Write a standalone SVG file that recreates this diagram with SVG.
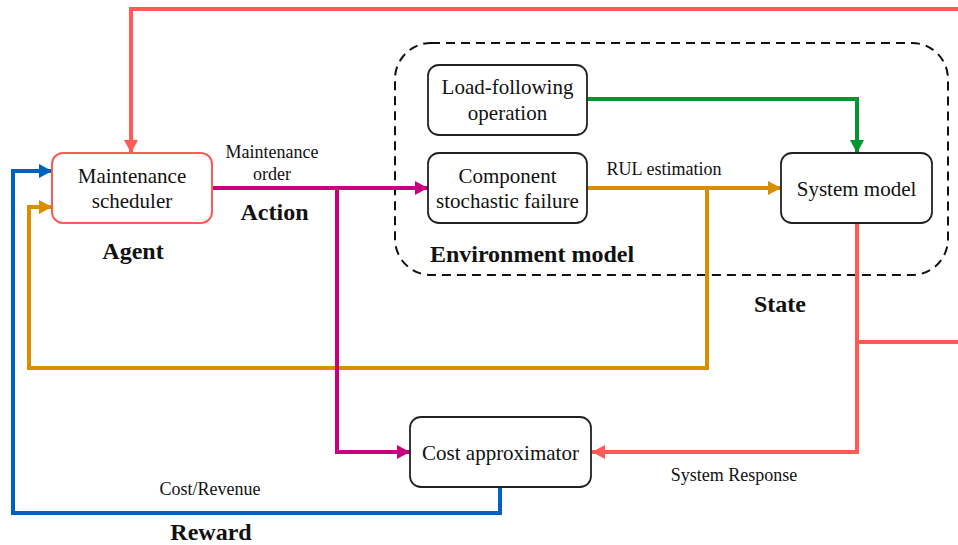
<svg xmlns="http://www.w3.org/2000/svg" width="958" height="545" viewBox="0 0 958 545">
<style>
.box{fill:#fff;stroke:#222;stroke-width:1.8}
.t{font-family:"Liberation Serif","Times New Roman",serif;fill:#111;text-anchor:middle}
.n{font-size:21px}
.s{font-size:18px}
.b{font-size:24px;font-weight:bold}
.c{fill:none;stroke-width:4;stroke-linejoin:miter}
</style>
<defs>
<marker id="aR" markerUnits="userSpaceOnUse" markerWidth="14" markerHeight="14" refX="13" refY="7" orient="auto"><path d="M0,0 L13,7 L0,14 Z" fill="#FF5A55"/></marker>
<marker id="aB" markerUnits="userSpaceOnUse" markerWidth="14" markerHeight="14" refX="13" refY="7" orient="auto"><path d="M0,0 L13,7 L0,14 Z" fill="#0060C0"/></marker>
<marker id="aO" markerUnits="userSpaceOnUse" markerWidth="14" markerHeight="14" refX="13" refY="7" orient="auto"><path d="M0,0 L13,7 L0,14 Z" fill="#D98E00"/></marker>
<marker id="aM" markerUnits="userSpaceOnUse" markerWidth="14" markerHeight="14" refX="13" refY="7" orient="auto"><path d="M0,0 L13,7 L0,14 Z" fill="#C8007E"/></marker>
<marker id="aG" markerUnits="userSpaceOnUse" markerWidth="14" markerHeight="14" refX="13" refY="7" orient="auto"><path d="M0,0 L13,7 L0,14 Z" fill="#00962F"/></marker>
</defs>
<rect width="958" height="545" fill="#fff"/>
<g id="environment">
<rect x="395" y="43" width="553" height="232" rx="36" fill="none" stroke="#111" stroke-width="2" stroke-dasharray="9,6"/>
<text class="t b" x="532" y="262">Environment model</text>
</g>
<g id="connectors">
<path class="c" stroke="#FF5A55" d="M958,9 H131 V153" marker-end="url(#aR)"/>
<path class="c" stroke="#0060C0" d="M500,487 V513 H13 V171 H52" marker-end="url(#aB)"/>
<path class="c" stroke="#D98E00" d="M587,188 H781" marker-end="url(#aO)"/>
<path class="c" stroke="#D98E00" d="M707,188 V368 H29 V207 H52" marker-end="url(#aO)"/>
<path class="c" stroke="#C8007E" d="M212,188 H428" marker-end="url(#aM)"/>
<path class="c" stroke="#C8007E" d="M337,188 V452 H410" marker-end="url(#aM)"/>
<path class="c" stroke="#00962F" d="M587,99 H857 V153" marker-end="url(#aG)"/>
<path class="c" stroke="#FF5A55" d="M857,223 V452 H592" marker-end="url(#aR)"/>
<path class="c" stroke="#FF5A55" d="M857,342 H958"/>
</g>
<g id="scheduler">
<rect x="52" y="153" width="160" height="70" rx="11" fill="#fff" stroke="#FF5A55" stroke-width="2"/>
<text class="t n" x="132" y="183">Maintenance</text>
<text class="t n" x="132" y="208">scheduler</text>
</g>
<g id="load">
<rect class="box" x="428" y="65" width="159" height="70" rx="11"/>
<text class="t n" x="507.5" y="94">Load-following</text>
<text class="t n" x="507.5" y="120">operation</text>
</g>
<g id="component">
<rect class="box" x="428" y="153" width="159" height="70" rx="11"/>
<text class="t n" x="507.5" y="183">Component</text>
<text class="t n" x="507.5" y="208">stochastic failure</text>
</g>
<g id="system">
<rect class="box" x="781" y="153" width="151" height="70" rx="11"/>
<text class="t n" x="856.5" y="196">System model</text>
</g>
<g id="cost">
<rect class="box" x="410" y="417" width="181" height="70" rx="11"/>
<text class="t n" x="500.5" y="460">Cost approximator</text>
</g>
<g id="labels">
<text class="t s" x="272" y="158">Maintenance</text>
<text class="t s" x="272" y="180">order</text>
<text class="t b" x="274.5" y="220">Action</text>
<text class="t b" x="133" y="259">Agent</text>
<text class="t s" x="664" y="175">RUL estimation</text>
<text class="t b" x="780" y="312">State</text>
<text class="t s" x="734" y="481">System Response</text>
<text class="t s" x="210" y="495">Cost/Revenue</text>
<text class="t b" x="211" y="540">Reward</text>
</g>
</svg>
